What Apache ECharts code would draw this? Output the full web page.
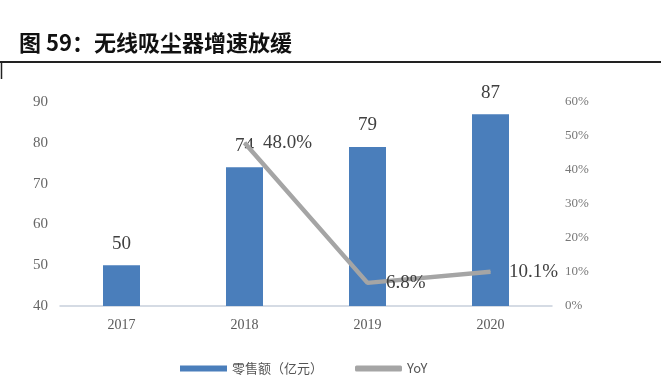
<!DOCTYPE html>
<html>
<head>
<meta charset="utf-8">
<script src="https://cdn.jsdelivr.net/npm/echarts@6/dist/echarts.min.js"></script>
<style>html,body{margin:0;padding:0;background:#fff}#c{width:661px;height:384px}</style>
</head>
<body>
<div id="c"></div>
<script>
const categories = ['2017', '2018', '2019', '2020'];
const retailSales = [50, 74, 79, 87];
const yoy = [null, 48.0, 6.8, 10.1];
const leftTicks = { min: 40, max: 90, interval: 10 };
const rightTicks = { min: 0, max: 60, interval: 10 };

const chart = echarts.init(document.getElementById('c'), null, { renderer: 'canvas' });
const serif = '"Liberation Serif", "DejaVu Serif", serif';
chart.setOption({
  animation: false,
  backgroundColor: '#fff',
  title: {
    text: '图 59：无线吸尘器增速放缓',
    left: 14, top: 27,
    textStyle: { fontFamily: '"Noto Sans CJK SC"', fontWeight: 'bold', fontSize: 22, color: '#111' }
  },
  graphic: [
    { type: 'line', shape: { x1: 0, y1: 62, x2: 661, y2: 62 }, style: { stroke: '#222', lineWidth: 2 } },
    { type: 'line', shape: { x1: 1.5, y1: 62, x2: 1.5, y2: 79 }, style: { stroke: '#222', lineWidth: 1.5 } }
  ],
  grid: { left: 60, right: 109, top: 102, bottom: 78 },
  legend: {
    left: 175, top: 357,
    itemWidth: 47, itemHeight: 6, itemGap: 32,
    textStyle: { fontFamily: '"Noto Sans CJK SC"', fontSize: 13, color: '#555' },
    data: [{ name: '零售额（亿元）', icon: 'rect' }, { name: 'YoY', icon: 'roundRect' }]
  },
  xAxis: {
    type: 'category', data: categories,
    axisLine: { lineStyle: { color: '#c8d0dc', width: 1.5 } },
    axisTick: { show: false },
    axisLabel: { fontFamily: serif, fontSize: 14, color: '#595959', margin: 12 }
  },
  yAxis: [
    {
      type: 'value', min: leftTicks.min, max: leftTicks.max, interval: leftTicks.interval,
      splitLine: { show: false }, axisLine: { show: false }, axisTick: { show: false },
      axisLabel: { fontFamily: serif, fontSize: 15, color: '#666', margin: 12 }
    },
    {
      type: 'value', min: rightTicks.min, max: rightTicks.max, interval: rightTicks.interval,
      splitLine: { show: false }, axisLine: { show: false }, axisTick: { show: false },
      axisLabel: { fontFamily: serif, fontSize: 13, color: '#777', margin: 13, formatter: '{value}%' }
    }
  ],
  series: [
    {
      name: '零售额（亿元）', type: 'bar', data: retailSales, barWidth: 37,
      itemStyle: { color: '#4a7ebb' },
      label: { show: true, position: 'top', distance: 12, fontFamily: serif, fontSize: 19, color: '#404040' }
    },
    {
      name: 'YoY', type: 'line', yAxisIndex: 1, data: yoy, z: 5,
      symbol: 'circle', symbolSize: 1, showSymbol: true,
      lineStyle: { color: '#a5a5a5', width: 4.5 }, itemStyle: { color: '#a5a5a5' },
      label: {
        show: true, position: 'right', distance: 18, fontFamily: serif, fontSize: 19, color: '#404040',
        formatter: p => (p.value == null || isNaN(p.value)) ? '' : Number(p.value).toFixed(1) + '%'
      }
    }
  ]
});
</script>
</body>
</html>
